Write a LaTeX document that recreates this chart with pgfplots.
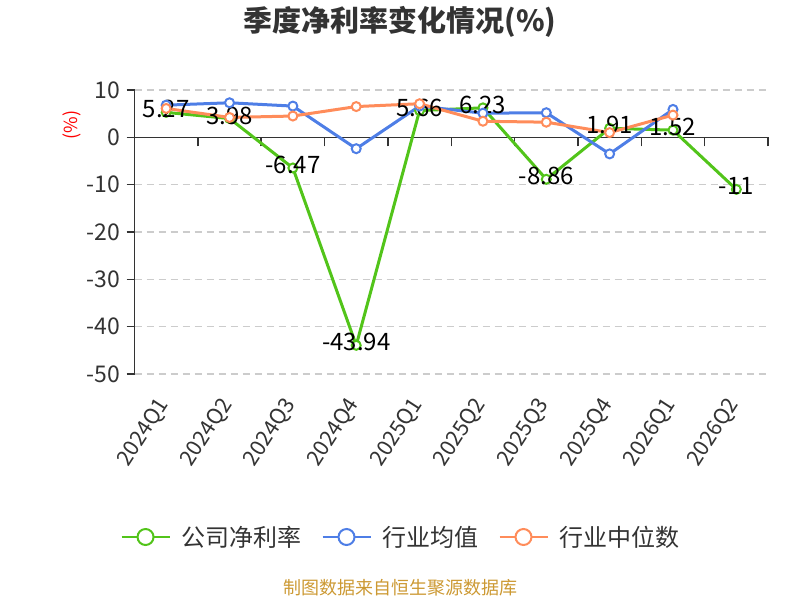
\documentclass[border=0pt]{standalone}
\usepackage{fontspec}
\setmainfont{Noto Sans CJK SC}
\usepackage{pgfplots}
\pgfplotsset{compat=1.18}
\definecolor{cg}{RGB}{82,196,26}
\definecolor{cb}{RGB}{78,126,230}
\definecolor{co}{RGB}{255,140,90}
\definecolor{axc}{RGB}{51,51,51}
\definecolor{gridc}{RGB}{204,204,204}
\definecolor{srcc}{RGB}{204,153,51}
\begin{document}
\begin{tikzpicture}[x=1bp,y=1bp]
\useasboundingbox (0bp,0bp) rectangle (800bp,600bp);
\pgfplotsset{common/.style={scale only axis, width=633.5bp, height=284bp,
  at={(134.5bp,226bp)}, anchor=south west, xmin=-0.5, xmax=9.5, ymin=-50, ymax=10}}
% background: grid, zero line with boundary ticks
\begin{axis}[common,
  axis x line=middle, axis y line=left,
  x axis line style={-, draw=axc, line width=1.5bp},
  y axis line style={draw=none},
  xtick={-0.5,0.5,...,9.5}, xticklabels={},
  ytick={-50,-40,-30,-20,-10,0,10}, yticklabels={},
  ytick style={draw=none},
  xtick style={draw=axc, line width=1.5bp},
  tick align=outside, major tick length=9bp,
  ymajorgrids, grid style={gridc, line width=1.2bp, dash pattern=on 7bp off 5bp}]
\addplot[draw=none] coordinates {(0,0)};
\end{axis}
\begin{axis}[common,
  axis x line=bottom, axis y line=left,
  x axis line style={draw=none},
  y axis line style={-, draw=axc, line width=1.5bp},
  xtick={0,...,9},
  xticklabels={2024Q1,2024Q2,2024Q3,2024Q4,2025Q1,2025Q2,2025Q3,2025Q4,2026Q1,2026Q2},
  xtick style={draw=none},
  ytick={-50,-40,-30,-20,-10,0,10},
  yticklabels={-50,-40,-30,-20,-10,0,10},
  ytick style={draw=axc, line width=1.5bp},
  tick align=outside, major tick length=8bp,
  yticklabel style={font=\fontsize{23bp}{27bp}\selectfont, text=axc, xshift=-3bp},
  xticklabel style={font=\fontsize{21.5bp}{25bp}\selectfont, text=axc, yshift=-16bp, rotate=57, anchor=east},
  legend style={draw=none, fill=none, at={(0.4207,-0.574)}, anchor=center,
    legend columns=3, font=\fontsize{24bp}{28bp}\selectfont, text=axc,
    /tikz/every odd column/.append style={column sep=9bp},
    /tikz/every even column/.append style={column sep=18bp}},
  legend image code/.code={\draw[#1, mark size=8bp, line width=2bp, mark repeat=2, mark phase=2]
    plot coordinates {(0bp,0bp) (24bp,0bp) (48bp,0bp)};},
  every axis plot/.append style={line width=3bp, mark=*, mark size=4.5bp}]
\addplot[cg, mark options={fill=white, draw=cg, line width=2bp},
  nodes near coords, point meta=explicit symbolic,
  nodes near coords align={anchor=center},
  every node near coord/.append style={text=black, yshift=3bp, font=\fontsize{24bp}{28bp}\selectfont}]
  coordinates {(0,5.27)[5.27] (1,3.98)[3.98] (2,-6.47)[-6.47] (3,-43.94)[-43.94] (4,5.66)[5.66]
    (5,6.23)[6.23] (6,-8.86)[-8.86] (7,1.91)[1.91] (8,1.52)[1.52] (9,-11)[-11]};
\addlegendentry{公司净利率}
\addplot[cb, mark options={fill=white, draw=cb, line width=2bp}]
  coordinates {(0,6.8) (1,7.3) (2,6.6) (3,-2.4) (4,6.6) (5,5.1) (6,5.2) (7,-3.5) (8,5.9)};
\addlegendentry{行业均值}
\addplot[co, mark options={fill=white, draw=co, line width=2bp}]
  coordinates {(0,6.1) (1,4.2) (2,4.5) (3,6.5) (4,7.1) (5,3.4) (6,3.2) (7,1.0) (8,4.7)};
\addlegendentry{行业中位数}
\end{axis}
\node[font=\fontsize{29bp}{33bp}\selectfont\bfseries, text=axc] at (400bp,578bp) {季度净利率变化情况(\%)};
\node[font=\fontsize{18bp}{22bp}\selectfont, text=red, rotate=90] at (72bp,475bp) {(\%)};
\node[font=\fontsize{18bp}{22bp}\selectfont, text=srcc] at (400bp,12bp) {制图数据来自恒生聚源数据库};
\end{tikzpicture}
\end{document}
